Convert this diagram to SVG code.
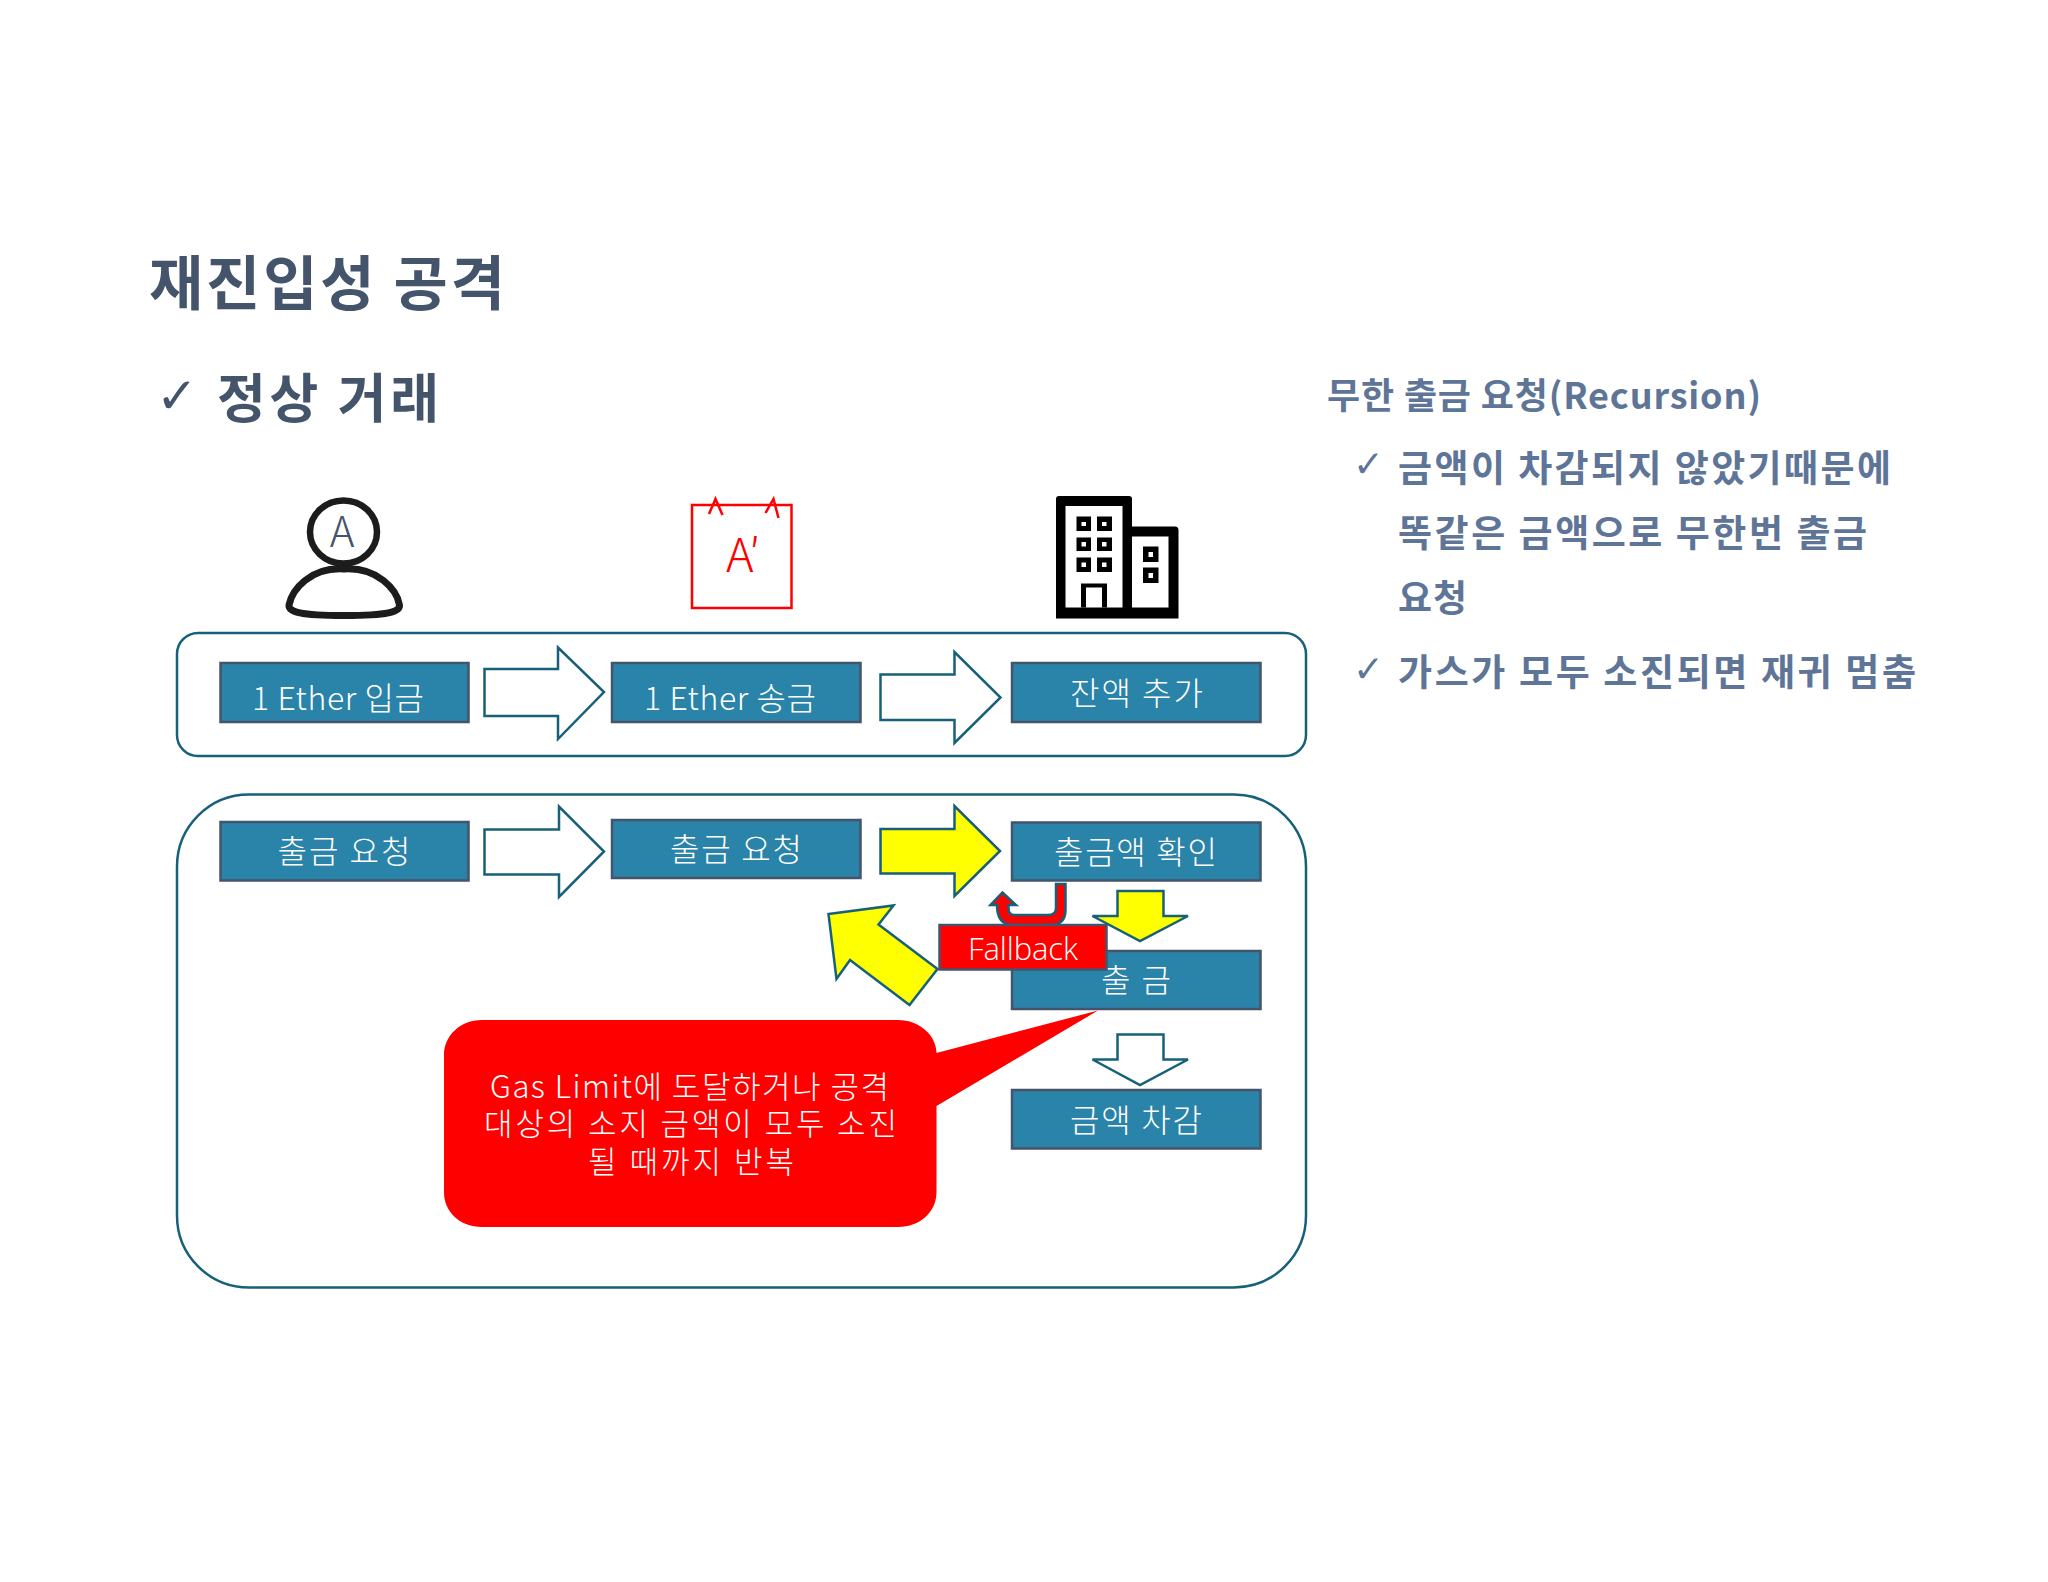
<svg xmlns="http://www.w3.org/2000/svg" width="2048" height="1582" viewBox="0 0 2048 1582">
<style>
text{font-family:"Noto Sans CJK KR","Noto Sans",sans-serif}
.box{fill:#2a83a8;stroke:#44546a;stroke-width:2.500}
.lbl{fill:#fff;font-size:32px;font-weight:300}
.frame{fill:#fff;stroke:#17607a;stroke-width:2.500}
.white{fill:#fff;stroke:#17607a;stroke-width:2.500;stroke-linejoin:miter}
.yellow{fill:#ff0;stroke:#17607a;stroke-width:2.500;stroke-linejoin:miter}
.title{fill:#44546a;font-weight:700}
.side{fill:#5e7598;font-size:37px;font-weight:700}
.chk{font-family:"DejaVu Sans",sans-serif;font-weight:400}
</style>
<rect width="2048" height="1582" fill="#fff"/>
<g id="heading">
<text class="title" x="149" y="305" font-size="59" textLength="356" lengthAdjust="spacing">재진입성 공격</text>
<text class="title chk" x="156" y="413" font-size="50">✓</text>
<text class="title" x="217" y="418" font-size="53" textLength="222" lengthAdjust="spacing">정상 거래</text>
</g>
<g id="side-notes">
<text class="side" x="1327" y="409" style="font-size:36px" textLength="434" lengthAdjust="spacing">무한 출금 요청(Recursion)</text>
<text class="side chk" x="1353" y="477" style="font-size:37px;font-weight:400">✓</text>
<text class="side" x="1398" y="482" textLength="493" lengthAdjust="spacing">금액이 차감되지 않았기때문에</text>
<text class="side" x="1398" y="547" textLength="469" lengthAdjust="spacing">똑같은 금액으로 무한번 출금</text>
<text class="side" x="1398" y="612" textLength="69" lengthAdjust="spacing">요청</text>
<text class="side chk" x="1353" y="682" style="font-size:37px;font-weight:400">✓</text>
<text class="side" x="1398" y="686" textLength="518" lengthAdjust="spacing">가스가 모두 소진되면 재귀 멈춤</text>
</g>
<g id="user-a">
<ellipse cx="343.500" cy="532" rx="33.500" ry="31.500" fill="#fff" stroke="#1c1c1c" stroke-width="6.500"/>
<path d="M344 569C310 567 292 590 289 605C288.500 612 300 615.500 344 615.500C388 615.500 400 612 399.500 605C397 590 378 567 344 569Z" fill="#fff" stroke="#1c1c1c" stroke-width="7"/>
<text x="342" y="547" font-size="42" font-weight="300" fill="#44546a" text-anchor="middle">A</text>
</g>
<g id="attacker-a-prime">
<rect x="692" y="505" width="99.500" height="103" fill="#fff" stroke="#f00" stroke-width="2.500"/>
<path d="M709 514L715.500 499L722.500 515M765.500 513L773.500 499L778.500 518" fill="none" stroke="#f00" stroke-width="2.500"/>
<text x="726" y="572" font-size="47" font-weight="300" fill="#f00" letter-spacing="-5">A′</text>
</g>
<g id="bank">
<path d="M1059 496H1129Q1132 496 1132 499V526.500H1175Q1178.500 526.500 1178.500 530V618.500H1056V499Q1056 496 1059 496Z" fill="#000"/>
<path d="M1065.500 506H1122.500V607.500H1065.500ZM1132 536.500H1168.500V607.500H1132Z" fill="#fff"/>
<path d="M1076.500 516.500H1091V531H1076.500ZM1097 516.500H1112V531H1097ZM1076.500 537.500H1091V551H1076.500ZM1097 537.500H1112V551H1097ZM1076.500 557.500H1091V572H1076.500ZM1097 557.500H1112V572H1097ZM1143 546.500H1158.500V562H1143ZM1143 567.500H1158.500V583H1143ZM1081 583.500H1107V607.500H1102V587.500H1086V607.500H1081Z" fill="#000"/>
<path d="M1081.500 522H1086V526H1081.500ZM1102 522H1106.500V526H1102ZM1081.500 542H1086V546.500H1081.500ZM1102 542H1106.500V546.500H1102ZM1081.500 562.500H1086V567H1081.500ZM1102 562.500H1106.500V567H1102ZM1148.500 552H1153V557H1148.500ZM1148.500 573H1153V578H1148.500Z" fill="#fff"/>
</g>
<g id="frames">
<rect id="frame-deposit" class="frame" x="177" y="633" width="1129" height="123" rx="21"/>
<rect id="frame-withdraw" class="frame" x="177" y="794.500" width="1129" height="493" rx="72"/>
</g>
<g id="connectors">
<path class="white" d="M484.500 669H558V647.500L604 692L558 739V716H484.500Z"/>
<path class="white" d="M880.500 674.500H954.500V652L1000.500 697.500L954.500 743V720H880.500Z"/>
<path class="white" d="M484.500 829.500H559V806.500L604 851.500L559 897V874.500H484.500Z"/>
<path class="yellow" d="M880.500 829H954.500V806L1000 851L954.500 896V873.500H880.500Z"/>
<path class="yellow" d="M1117.500 891H1163.500V916H1188L1140 941L1092.500 916H1117.500Z"/>
<path class="white" d="M1117.500 1034.500H1163.500V1059.500H1188L1140 1085L1092.500 1059.500H1117.500Z"/>
<path class="yellow" d="M828.500 914L893.500 905.500L878.500 924.500L937.500 969L909.500 1005L850 960L836.500 979Z"/>
<path id="fallback-turn" d="M1065.500 884V910Q1065.500 925 1050 925H1013Q997 925 997 905H990.500L1002.500 892.500L1016 905H1008.500V908Q1008.500 915 1014 915H1048Q1056 915 1056 908V884Z" fill="#f00" stroke="#17607a" stroke-width="2.500"/>
</g>
<g id="n-deposit-a"><rect class="box" x="220.500" y="663" width="248" height="59"/><text class="lbl" x="252" y="710" textLength="172" lengthAdjust="spacing">1 Ether 입금</text></g>
<g id="n-send"><rect class="box" x="612" y="663" width="248.500" height="59"/><text class="lbl" x="644" y="710" textLength="172" lengthAdjust="spacing">1 Ether 송금</text></g>
<g id="n-balance-add"><rect class="box" x="1012" y="663" width="248.500" height="59"/><text class="lbl" x="1070" y="705" textLength="133" lengthAdjust="spacing">잔액 추가</text></g>
<g id="n-request-a"><rect class="box" x="220.500" y="822" width="248" height="58.500"/><text class="lbl" x="277.500" y="863" textLength="133" lengthAdjust="spacing">출금 요청</text></g>
<g id="n-request-b"><rect class="box" x="612" y="820" width="248.500" height="58"/><text class="lbl" x="670" y="861" textLength="132" lengthAdjust="spacing">출금 요청</text></g>
<g id="n-check"><rect class="box" x="1012" y="822.500" width="248.500" height="58"/><text class="lbl" x="1054" y="864" textLength="163" lengthAdjust="spacing">출금액 확인</text></g>
<g id="n-withdraw"><rect class="box" x="1012" y="951" width="248.500" height="58"/><text class="lbl" x="1101" y="992" textLength="70" lengthAdjust="spacing">출 금</text></g>
<g id="n-deduct"><rect class="box" x="1012" y="1090" width="248.500" height="58.500"/><text class="lbl" x="1070" y="1132" textLength="132" lengthAdjust="spacing">금액 차감</text></g>
<g id="n-fallback"><rect x="939.500" y="925" width="167" height="44.500" fill="#f00" stroke="#44546a" stroke-width="2.500"/><text x="968" y="960" font-size="31" style="font-family:'Open Sans',sans-serif" font-weight="300" fill="#fff" textLength="110" lengthAdjust="spacing">Fallback</text></g>
<g id="n-callout">
<path d="M482 1020H898C920 1020 936.500 1036 936.500 1053L1098 1010.500L936.500 1106V1192C936.500 1212 920 1227 898 1227H482C460 1227 444 1212 444 1192V1055C444 1036 460 1020 482 1020Z" fill="#f00"/>
<text class="lbl" style="font-size:31px" x="490" y="1098" textLength="399" lengthAdjust="spacing">Gas Limit에 도달하거나 공격</text>
<text class="lbl" style="font-size:31px" x="484" y="1135" textLength="413" lengthAdjust="spacing">대상의 소지 금액이 모두 소진</text>
<text class="lbl" style="font-size:31px" x="588" y="1173" textLength="206" lengthAdjust="spacing">될 때까지 반복</text>
</g>
</svg>
